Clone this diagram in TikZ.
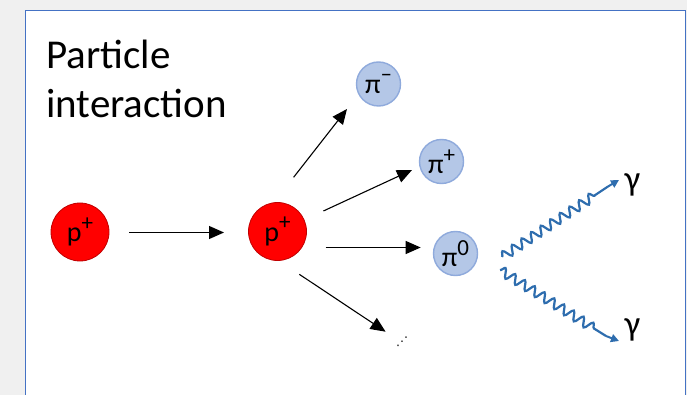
\documentclass[tikz,border=0pt]{standalone}
\usepackage{fontspec}
\setmainfont{Carlito}
\newfontfamily\djv{DejaVu Sans}
\usetikzlibrary{arrows.meta,decorations.pathmorphing}
\definecolor{bgray}{HTML}{F0F0F0}
\definecolor{frameblue}{HTML}{4472C4}
\definecolor{pred}{HTML}{FF0000}
\definecolor{predb}{HTML}{C00000}
\definecolor{pifill}{HTML}{B4C7E7}
\definecolor{pibord}{HTML}{8FAADC}
\definecolor{wave}{HTML}{2E6DAE}
\newcommand\supx[1]{\raisebox{0.40em}{\fontsize{23}{23}\selectfont #1}}
\tikzset{
  proton/.style={circle,fill=pred,draw=predb,line width=0.8pt,minimum size=58pt,inner sep=0pt,font=\fontsize{28}{30}\selectfont},
  pion/.style={circle,fill=pifill,draw=pibord,line width=1.4pt,minimum size=44pt,inner sep=0pt,font=\fontsize{28}{30}\selectfont},
  arr/.style={line width=1.1pt,-{Triangle[length=15pt,width=13pt]}},
  photon/.style={draw=wave,line width=2.2pt,decorate,decoration={snake,amplitude=4.6pt,segment length=11.5pt,post length=14pt}},
  phtip/.style={draw=wave,line width=2pt,-{Triangle[length=8pt,width=8pt]}},
  lbl/.style={font=\fontsize{35}{37}\selectfont,inner sep=0pt}
}
\begin{document}
\begin{tikzpicture}[x=1pt,y=-1pt]
\useasboundingbox (0,0) rectangle (687,395);
\fill[bgray] (0,0) rectangle (687,395);
\draw[frameblue,fill=white,line width=1.4pt] (25.5,400) -- (25.5,10.5) -- (685.5,10.5) -- (685.5,400);
\node[anchor=base west,inner sep=0pt,font=\fontsize{41}{49}\selectfont] (t1) at (46,68.3) {Particle};
\node[anchor=base west,inner sep=0pt,font=\fontsize{41}{49}\selectfont] (t2) at (46,117.3) {interaction};
\node[proton] (p1) at (80,232) {p\supx{+}};
\node[proton] (p2) at (277.5,231.5) {p\supx{+}};
\node[pion] (pim) at (378.5,84) {π\supx{–}};
\node[pion] (pip) at (441.5,161.5) {π\supx{+}};
\node[pion] (piz) at (455.5,253.5) {π\supx{0}};
\node[inner sep=0pt,font=\djv\fontsize{12}{12}\selectfont] (dots) at (402,341.5) {⋰};
\coordinate (a0s) at (129,232.5);
\coordinate (a0e) at (224,232.5);
\coordinate (a1s) at (293.6,177.3);
\coordinate (a1e) at (347,109);
\coordinate (a2s) at (323.4,211);
\coordinate (a2e) at (412,170);
\coordinate (a3s) at (325.6,247.5);
\coordinate (a3e) at (420.7,247.5);
\coordinate (a4s) at (299.3,274.3);
\coordinate (a4e) at (385.6,331.7);
\draw[arr] (a0s) -- (a0e);
\draw[arr] (a1s) -- (a1e);
\draw[arr] (a2s) -- (a2e);
\draw[arr] (a3s) -- (a3e);
\draw[arr] (a4s) -- (a4e);
\coordinate (g1s) at (502,257);
\coordinate (g1e) at (608,186.5);
\coordinate (g1t) at (619,180);
\coordinate (g2s) at (500,270);
\coordinate (g2e) at (606,336);
\coordinate (g2t) at (619,341);
\draw[photon] (g1s) -- (g1e);
\draw[phtip] (g1e) -- (g1t);
\draw[photon] (g2s) -- (g2e);
\draw[phtip] (g2e) -- (g2t);
\node[lbl] (gam1) at (632.5,185) {γ};
\node[lbl] (gam2) at (632.5,330) {γ};
\end{tikzpicture}
\end{document}
